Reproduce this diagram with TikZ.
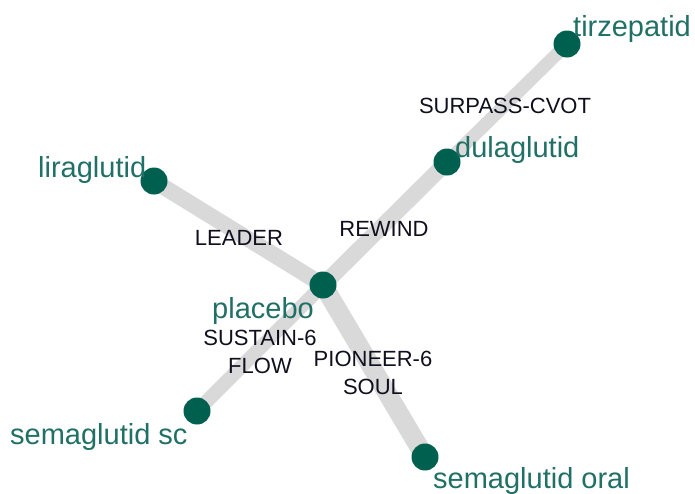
\documentclass[tikz,border=0pt]{standalone}
\usepackage{fontspec}
\setmainfont{Liberation Sans}
\usetikzlibrary{backgrounds}
\definecolor{nodegreen}{RGB}{0,96,80}
\definecolor{labelteal}{RGB}{32,112,102}
\definecolor{edgegray}{RGB}{217,217,217}
\definecolor{studyink}{RGB}{15,15,30}
\tikzset{
  trt/.style={circle,fill=nodegreen,draw=none,minimum size=27pt,inner sep=0pt},
  trtlabel/.style={anchor=base west,inner sep=0pt,text=labelteal,font=\fontsize{29}{34}\selectfont},
  study/.style={inner sep=0pt,text=studyink,font=\fontsize{22}{28}\selectfont,align=center},
  link/.style={draw=edgegray,line cap=butt}
}
\begin{document}
\begin{tikzpicture}[x=1pt,y=-1pt]
\useasboundingbox (0,0) rectangle (695,493);
% treatment nodes
\node[trt] (tir) at (567,44) {};
\node[trt] (dul) at (447,162) {};
\node[trt] (lir) at (154,181) {};
\node[trt] (pla) at (323,285) {};
\node[trt] (ssc) at (197,411) {};
\node[trt] (sor) at (425,457) {};
% edges
\begin{scope}[on background layer]
\draw[link,line width=13pt] (dul.center) -- (tir.center);
\draw[link,line width=16pt] (pla.center) -- (dul.center);
\draw[link,line width=16pt] (lir.center) -- (pla.center);
\draw[link,line width=14pt] (pla.center) -- (ssc.center);
\draw[link,line width=19pt] (pla.center) -- (sor.center);
\end{scope}
% treatment labels
\node[trtlabel] (tirl) at (573,36) {tirzepatid};
\node[trtlabel] (dull) at (455,157) {dulaglutid};
\node[trtlabel] (lirl) at (38,177) {liraglutid};
\node[trtlabel] (plal) at (212,318) {placebo};
\node[trtlabel] (sscl) at (10,444) {semaglutid sc};
\node[trtlabel] (sorl) at (433,488) {semaglutid oral};
% study labels
\node[study,anchor=base] (s1) at (505,113) {SURPASS-CVOT};
\node[study,anchor=base] (s2) at (384,236) {REWIND};
\node[study,anchor=base] (s3) at (239,245) {LEADER};
\node[study] (s4) at (260,351.5) {SUSTAIN-6\\FLOW};
\node[study] (s5) at (373,372.5) {PIONEER-6\\SOUL};
\end{tikzpicture}
\end{document}
